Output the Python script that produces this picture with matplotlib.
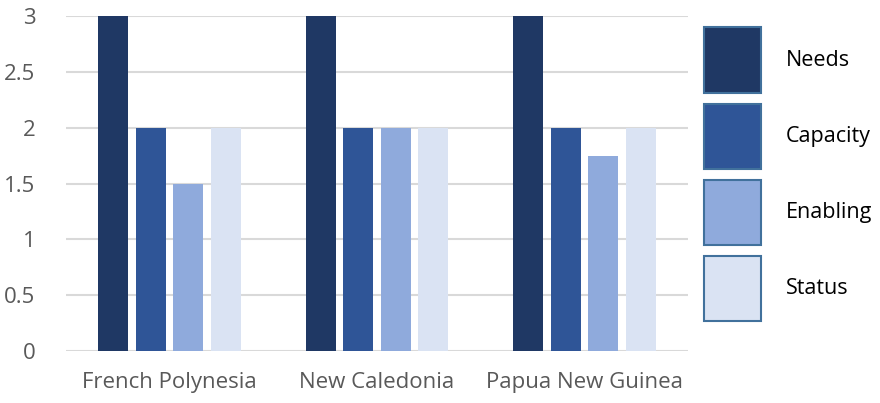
import numpy as np
import matplotlib.pyplot as plt
from matplotlib.patches import Patch

plt.rcParams['font.family'] = ['Open Sans', 'DejaVu Sans']

countries = ["French Polynesia", "New Caledonia", "Papua New Guinea"]
series = ["Needs", "Capacity", "Enabling", "Status"]
needs = [3, 3, 3]
capacity = [2, 2, 2]
enabling = [1.5, 2, 1.75]
status = [2, 2, 2]
colors = ["#1F3864", "#2F5597", "#8FAADC", "#DAE3F3"]

values = [needs, capacity, enabling, status]

fig = plt.figure(figsize=(8.8, 4.03), dpi=100)
ax = fig.add_axes([0.075, 0.129, 0.707, 0.831])

x = np.arange(len(countries))
step = 0.181
width = 0.145
for i, (vals, c) in enumerate(zip(values, colors)):
  ax.bar(x + (i - 1.5) * step, vals, width, color=c, zorder=3)

ax.set_xlim(-0.5, 2.5)
ax.set_ylim(0, 3)
ax.set_yticks([0, 0.5, 1, 1.5, 2, 2.5, 3])
ax.set_yticklabels(["0", "0.5", "1", "1.5", "2", "2.5", "3"])
ax.set_xticks(x)
ax.set_xticklabels(countries)
ax.tick_params(length=0, labelsize=16, labelcolor="#595959")
ax.tick_params(axis="x", pad=15)
ax.tick_params(axis="y", pad=22)
ax.grid(axis="y", color="#D9D9D9", linewidth=1.5, zorder=0)
for s in ax.spines.values():
  s.set_visible(False)

# legend with big square swatches like the original
handles = [Patch(facecolor=c, edgecolor="#41719C", linewidth=1.5) for c in colors]
fig.legend(handles, series, loc="upper left", bbox_to_anchor=(0.8, 0.932),
           frameon=False, fontsize=15.5, handlelength=2.65, handleheight=4.3,
           labelspacing=0.5, handletextpad=1.15, borderpad=0, borderaxespad=0)

fig.savefig("out.png", dpi=100)
